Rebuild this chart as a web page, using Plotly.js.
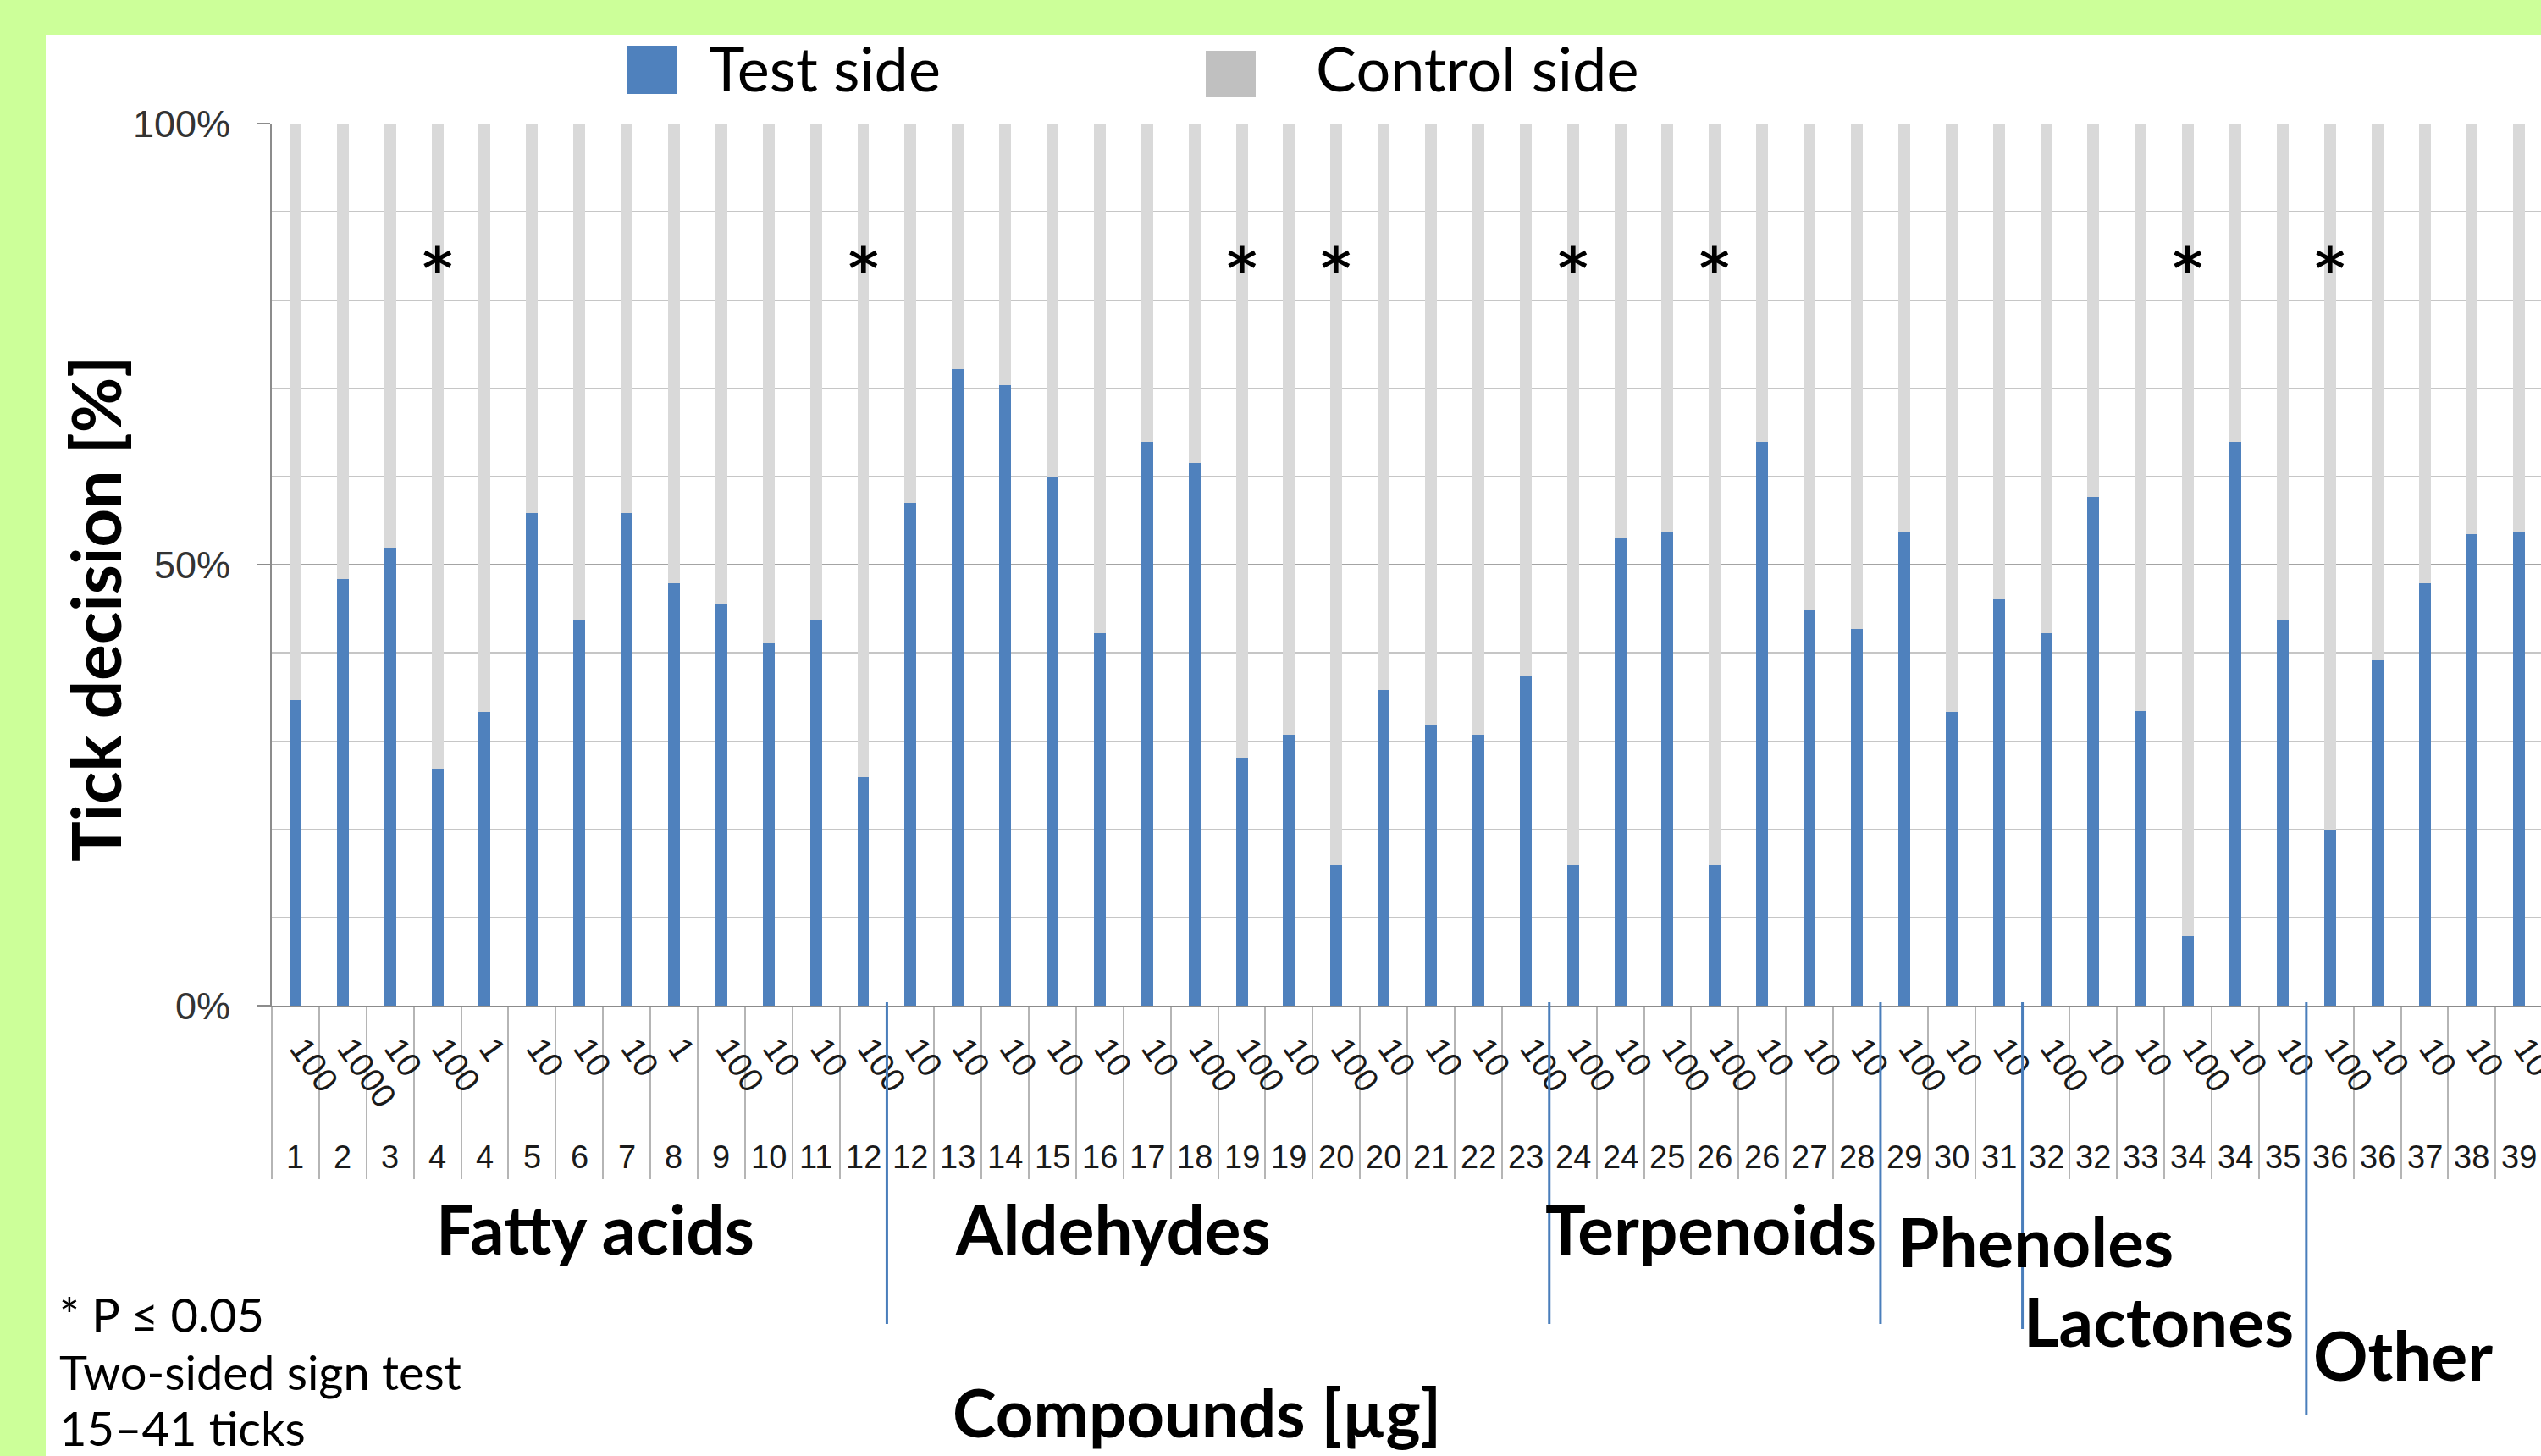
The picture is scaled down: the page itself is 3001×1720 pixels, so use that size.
<!DOCTYPE html>
<html>
<head>
<meta charset="utf-8">
<script src="https://cdn.plot.ly/plotly-3.0.1.min.js"></script>
<style>
html,body{margin:0;padding:0;background:#CCFF99;}
#chart{width:3001px;height:1720px;}
</style>
</head>
<body>
<div id="chart"></div>
<script>
// ---------------- data ----------------
const compounds = ['1','2','3','4','4','5','6','7','8','9','10','11','12','12','13','14','15','16','17','18','19','19','20','20','21','22','23','24','24','25','26','26','27','28','29','30','31','32','32','33','34','34','35','36','36','37','38','39'];
const doses = ['100','1000','10','100','1','10','10','10','1','100','10','10','100','10','10','10','10','10','10','100','100','10','100','10','10','10','100','100','10','100','100','10','10','10','100','10','10','100','10','10','100','10','10','100','10','10','10','10'];
const testSide = [34.6,48.4,51.9,26.9,33.3,55.9,43.8,55.9,47.9,45.5,41.2,43.8,25.9,57.0,72.2,70.3,59.9,42.2,63.9,61.5,28.0,30.7,15.9,35.8,31.9,30.7,37.4,15.9,53.1,53.7,15.9,63.9,44.8,42.7,53.7,33.3,46.1,42.2,57.7,33.4,7.9,63.9,43.8,19.9,39.2,47.9,53.5,53.7];
const controlSide = [65.4,51.6,48.1,73.1,66.7,44.1,56.2,44.1,52.1,54.5,58.8,56.2,74.1,43.0,27.8,29.7,40.1,57.8,36.1,38.5,72.0,69.3,84.1,64.2,68.1,69.3,62.6,84.1,46.9,46.3,84.1,36.1,55.2,57.3,46.3,66.7,53.9,57.8,42.3,66.6,92.1,36.1,56.2,80.1,60.8,52.1,46.5,46.3];
const significant = [0,0,0,1,0,0,0,0,0,0,0,0,1,0,0,0,0,0,0,0,1,0,1,0,0,0,0,1,0,0,1,0,0,0,0,0,0,0,0,0,1,0,0,1,0,0,0,0];
const groupNames = ['Fatty acids','Aldehydes','Terpenoids','Phenoles','Lactones','Other'];
const groupSizes = [13,14,7,3,6,5];
const seriesNames = ['Test side','Control side'];
const yAxisTitle = 'Tick decision [%]';
const xAxisTitle = 'Compounds [µg]';
const noteLines = ['* P \u2264 0.05','Two-sided sign test','15\u201341 ticks'];

// ---------------- layout helpers (pixel geometry of the figure) ----------------
const W = 3001, H = 1720;
const PL = 321, PR = 3001, PT = 146, PB = 1188;
const px = X => (X - PL) / (PR - PL);
const py = Y => (PB - Y) / (PB - PT);

const blue = '#4F81BD', grey = '#D9D9D9', greyKey = '#C0C0C0';
const ids = compounds.map((c, i) => c + ' \u00b7 ' + doses[i] + ' \u00b5g');

const traces = [
  {type:'bar', name:seriesNames[0], x:ids, y:testSide, marker:{color:blue, line:{width:0}}, showlegend:false, hoverinfo:'skip'},
  {type:'bar', name:seriesNames[1], x:ids, y:controlSide, marker:{color:grey, line:{width:0}}, showlegend:false, hoverinfo:'skip'}
];

const shapes = [];
const annotations = [];

// white panel on green background
shapes.push({type:'rect', xref:'paper', yref:'paper', x0:px(54), x1:px(3010), y0:py(1730), y1:py(41),
  fillcolor:'#FFFFFF', line:{width:0}, layer:'below'});

// compound numbers (second row of the category axis)
compounds.forEach((c, i) => {
  annotations.push({xref:'x', yref:'paper', x:ids[i], y:py(1367), xanchor:'center', yanchor:'middle',
    showarrow:false, text:c, font:{family:'Liberation Sans', size:38, color:'#1A1A1A'}});
});

// group separators (blue) and group labels
const sepEnds = [1564, 1564, 1564, 1570, 1671];
const groupLabelPos = [[703,1451],[1314,1451],[2020,1451],[2404,1466],[2549,1560],[2838,1600]];
let cum = 0;
groupSizes.forEach((n, g) => {
  cum += n;
  if (g < groupSizes.length - 1) {
    shapes.push({type:'line', xref:'x', yref:'paper', x0:cum - 0.5, x1:cum - 0.5, y0:py(1184), y1:py(sepEnds[g]),
      line:{color:'#4A7EBB', width:3}});
  }
  annotations.push({xref:'paper', yref:'paper', x:px(groupLabelPos[g][0]), y:py(groupLabelPos[g][1]),
    xanchor:'center', yanchor:'middle', showarrow:false, text:groupNames[g],
    font:{family:'Lato', size:80, color:'#000', weight:700}});
});

// significance asterisks
significant.forEach((s, i) => {
  if (s) annotations.push({xref:'x', yref:'y', x:ids[i], y:84.7, yshift:-12, showarrow:false, text:'*',
    xanchor:'center', yanchor:'middle', font:{family:'DejaVu Sans', size:68, color:'#000', weight:700}});
});

// legend (large keys as in the original)
const legendKeys = [[741,800,54,111,blue],[1424,1483,60,115,greyKey]];
const legendText = [835, 1552];
seriesNames.forEach((nm, k) => {
  const kk = legendKeys[k];
  shapes.push({type:'rect', xref:'paper', yref:'paper', x0:px(kk[0]), x1:px(kk[1]), y0:py(kk[3]), y1:py(kk[2]),
    fillcolor:kk[4], line:{width:0}});
  annotations.push({xref:'paper', yref:'paper', x:px(legendText[k]), y:py(80), xanchor:'left', yanchor:'middle',
    showarrow:false, text:nm, font:{family:'Lato', size:72, color:'#000'}});
});

// axis titles
annotations.push({xref:'paper', yref:'paper', x:px(112), y:py(720), textangle:-90, xanchor:'center', yanchor:'middle',
  showarrow:false, text:yAxisTitle, font:{family:'Lato', size:80, color:'#000', weight:700}});
annotations.push({xref:'paper', yref:'paper', x:px(1413), y:py(1668), xanchor:'center', yanchor:'middle',
  showarrow:false, text:xAxisTitle, font:{family:'Lato', size:78, color:'#000', weight:700}});

// notes
const noteY = [1552, 1620, 1686];
noteLines.forEach((t, k) => {
  annotations.push({xref:'paper', yref:'paper', x:px(69), y:py(noteY[k]), xanchor:'left', yanchor:'middle',
    borderpad:0, showarrow:false, text:t, font:{family:'Lato', size:56, color:'#000'}});
});

const layout = {
  width:W, height:H,
  margin:{l:PL, r:W - PR, t:PT, b:H - PB, pad:0},
  paper_bgcolor:'#CCFF99', plot_bgcolor:'#FFFFFF',
  font:{family:'Lato', color:'#000'},
  barmode:'stack', bargap:0.75,
  showlegend:false, hovermode:false,
  xaxis:{type:'category', categoryorder:'array', categoryarray:ids, range:[-0.5, 47.46], autorange:false,
    tickmode:'array', tickvals:ids, ticktext:doses, tickangle:55,
    tickson:'boundaries', ticks:'outside', ticklen:203, tickwidth:2, tickcolor:'#B5B5B5',
    showline:true, linecolor:'#8C8C8C', linewidth:2, showgrid:false, zeroline:false,
    tickfont:{family:'Liberation Sans', size:40, color:'#1A1A1A'}, ticklabelstandoff:9, ticklabelshift:8, automargin:false},
  yaxis:{range:[0,100], autorange:false, tickmode:'linear', tick0:0, dtick:50, ticksuffix:'%',
    showgrid:true, gridcolor:'#A4A4A4', gridwidth:2,
    minor:{dtick:10, tick0:0, showgrid:true, gridcolor:'#C6C6C6', gridwidth:1.5},
    ticks:'outside', ticklen:16, tickwidth:2, tickcolor:'#8C8C8C',
    showline:true, linecolor:'#8C8C8C', linewidth:2, zeroline:false,
    tickfont:{family:'Liberation Sans', size:45, color:'#333333'}, ticklabelstandoff:22, automargin:false},
  shapes:shapes, annotations:annotations
};

Plotly.newPlot('chart', traces, layout, {staticPlot:true, displayModeBar:false});
</script>
</body>
</html>
